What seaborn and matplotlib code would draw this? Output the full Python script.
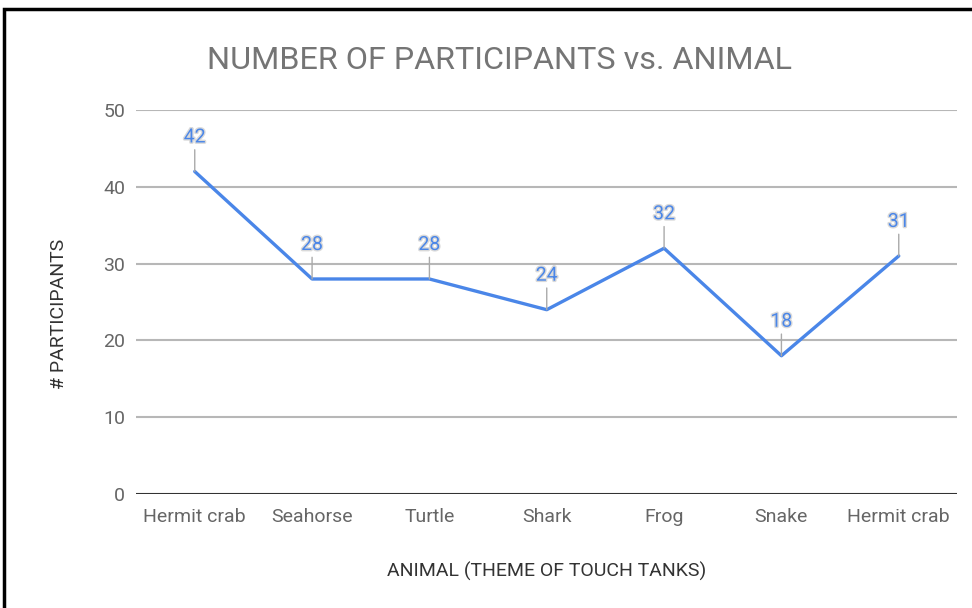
import matplotlib
matplotlib.use("Agg")
import matplotlib.pyplot as plt
import matplotlib.patheffects as pe
import seaborn as sns
import pandas as pd

animals = ["Hermit crab", "Seahorse", "Turtle", "Shark", "Frog", "Snake", "Hermit crab "]
participants = [42, 28, 28, 24, 32, 18, 31]
y_ticks = [0, 10, 20, 30, 40, 50]

df = pd.DataFrame({"animal": animals, "participants": participants})

sns.set_theme(style="white")
plt.rcParams["font.family"] = ["Roboto", "DejaVu Sans"]

fig = plt.figure(figsize=(9.72, 6.08), dpi=100)
ax = fig.add_axes([0.140, 0.1875, 0.845, 0.6315])

blue = "#4a86e8"
sns.lineplot(data=df, x="animal", y="participants", color=blue, lw=2.4, ax=ax, sort=False)

ax.set_ylim(0, 50)
ax.set_xlim(-0.5, len(animals) - 0.5)
ax.set_yticks(y_ticks)
ax.set_xticks(range(len(animals)))
ax.set_xticklabels([a.strip() for a in animals])
for t in y_ticks[1:]:
    ax.axhline(t, color="#b7b7b7", lw=1.5, zorder=0)
ax.axhline(0, color="#333333", lw=1.5, zorder=1)
for s in ax.spines.values():
    s.set_visible(False)
ax.tick_params(axis="both", length=0, labelsize=14, labelcolor="#666666")
ax.tick_params(axis="x", pad=10)
ax.tick_params(axis="y", pad=8)

for i, v in enumerate(participants):
    ax.annotate(
        str(v), xy=(i, v), xytext=(0, 18), textcoords="offset points",
        ha="center", va="bottom", fontsize=14, color=blue,
        arrowprops=dict(arrowstyle="-", color="#aaaaaa", lw=1, shrinkA=0, shrinkB=0),
        path_effects=[pe.withStroke(linewidth=2, foreground="#d9d9d9")],
    )

ax.set_xlabel("ANIMAL (THEME OF TOUCH TANKS)", fontsize=14, color="#333333", labelpad=26)
ax.set_ylabel("# PARTICIPANTS", fontsize=14, color="#333333")
ax.yaxis.set_label_coords(-0.083, 0.469)
fig.suptitle("NUMBER OF PARTICIPANTS vs. ANIMAL", x=0.514, y=0.925, fontsize=23.3, color="#757575")

fig.patches.append(plt.Rectangle((4 / 972, -0.05), 1.1, 1 - 9 / 608 + 0.05, transform=fig.transFigure,
                                 fill=False, edgecolor="black", lw=2.5))

fig.savefig("out.png", dpi=100)
